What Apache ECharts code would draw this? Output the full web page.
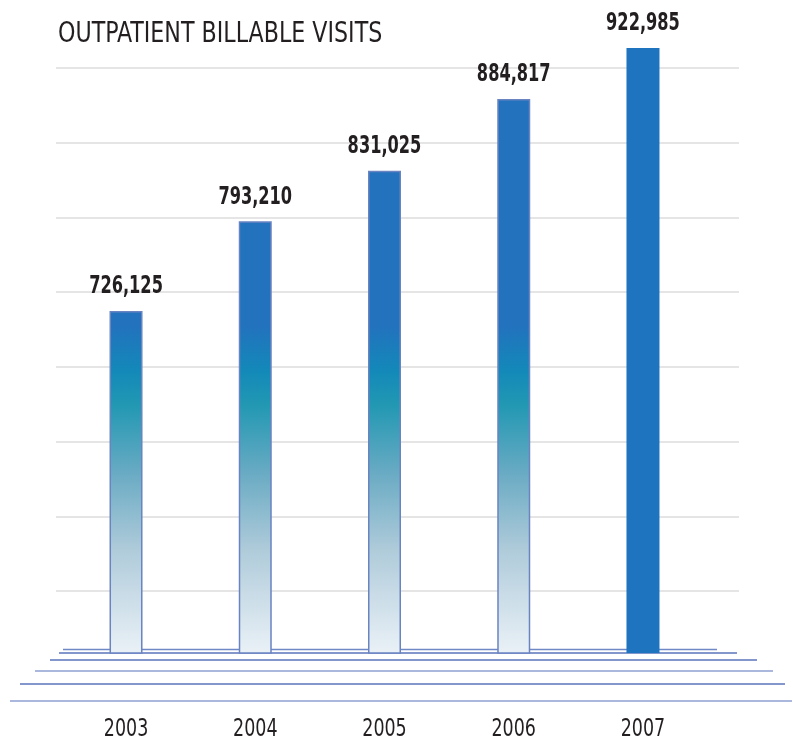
<!DOCTYPE html>
<html>
<head>
<meta charset="utf-8">
<script src="https://cdn.jsdelivr.net/npm/echarts@6/dist/echarts.min.js"></script>
<style>
html,body{margin:0;padding:0;background:#fff;}
#chart{width:793px;height:742px;}
</style>
</head>
<body>
<div id="chart"></div>
<script>
const titleText = 'OUTPATIENT BILLABLE VISITS';
const categories = ['2003', '2004', '2005', '2006', '2007'];
const visits = [726125, 793210, 831025, 884817, 922985];
const solidYear = '2007';

const FONT = "'Liberation Sans Narrow', 'DejaVu Sans Condensed', 'Arial Narrow', sans-serif";
const Y_MIN = 470000, Y_MAX = 929000;

const chart = echarts.init(document.getElementById('chart'));

const gradient = {
  type: 'linear', x: 0, y: 48, x2: 0, y2: 653, global: true,
  colorStops: [
    { offset: 0, color: '#2272bd' },
    { offset: 0.46, color: '#2272bd' },
    { offset: 0.535, color: '#1389b9' },
    { offset: 0.59, color: '#2298b3' },
    { offset: 0.70, color: '#68aac3' },
    { offset: 0.83, color: '#afcbda' },
    { offset: 1, color: '#eaf1f7' }
  ]
};

const barData = visits.map((v, i) => {
  if (categories[i] === solidYear) {
    return { value: v, itemStyle: { color: '#1f74bf', borderWidth: 0 } };
  }
  return { value: v };
});

const baseLines = [
  { y: 649.5, x1: 63, x2: 717, c: '#6f88c6' },
  { y: 653, x1: 59, x2: 737, c: '#5b74bb' },
  { y: 660, x1: 50, x2: 757, c: '#5b74bb' },
  { y: 671, x1: 35, x2: 773, c: '#8da0d0' },
  { y: 684, x1: 20, x2: 785, c: '#5b74bb' },
  { y: 701, x1: 10, x2: 792, c: '#8da0d0' }
];

const graphics = baseLines.map(l => ({
  type: 'line', z: 0,
  shape: { x1: l.x1, y1: l.y, x2: l.x2, y2: l.y },
  style: { stroke: l.c, lineWidth: 1.5 }
}));
graphics.push({
  type: 'text', x: 58, y: 20, scaleX: 0.85, z: 10,
  style: {
    text: titleText, fontFamily: FONT, fontSize: 29, fontWeight: 'normal',
    fill: '#231f20', align: 'left', verticalAlign: 'top'
  }
});

chart.setOption({
  animation: false,
  backgroundColor: '#ffffff',
  graphic: graphics,
  grid: [
    { left: 61.4, right: 85.4, top: 40, bottom: 89 },
    { left: 56, right: 54, top: 68, bottom: 151 }
  ],
  xAxis: [
    {
      type: 'category', gridIndex: 0, data: categories,
      axisLine: { show: false }, axisTick: { show: false },
      axisLabel: { show: false }
    },
    { type: 'value', gridIndex: 1, show: false }
  ],
  yAxis: [
    {
      type: 'value', gridIndex: 0, min: Y_MIN, max: Y_MAX,
      axisLine: { show: false }, axisTick: { show: false },
      axisLabel: { show: false }, splitLine: { show: false }
    },
    {
      type: 'value', gridIndex: 1, min: 0, max: 7, interval: 1,
      axisLine: { show: false }, axisTick: { show: false }, axisLabel: { show: false },
      splitLine: { show: true, lineStyle: { color: '#e5e5e5', width: 2 } }
    }
  ],
  series: [
    {
      type: 'bar', xAxisIndex: 0, yAxisIndex: 0, z: 3,
      barWidth: 33,
      data: barData,
      itemStyle: { color: gradient, borderColor: '#6a84c2', borderWidth: 1.5 }
    },
    {
      type: 'custom', xAxisIndex: 0, yAxisIndex: 0, z: 5,
      data: visits.map((v, i) => [i, v]),
      encode: { x: 0, y: 1 },
      renderItem: function (params, api) {
        const idx = api.value(0);
        const val = api.value(1);
        const top = api.coord([idx, val]);
        const base = api.coord([idx, Y_MIN]);
        return {
          type: 'group',
          children: [
            {
              type: 'text', x: top[0], y: top[1] - 12, scaleX: 0.75,
              style: {
                text: val.toLocaleString('en-US'),
                fontFamily: FONT, fontSize: 24, fontWeight: 'bold',
                fill: '#231f20', align: 'center', verticalAlign: 'bottom'
              }
            },
            {
              type: 'text', x: top[0], y: base[1] + 89, scaleX: 0.81,
              style: {
                text: categories[idx],
                fontFamily: FONT, fontSize: 24, fontWeight: 'normal',
                fill: '#231f20', align: 'center', verticalAlign: 'bottom'
              }
            }
          ]
        };
      }
    }
  ]
});
</script>
</body>
</html>
